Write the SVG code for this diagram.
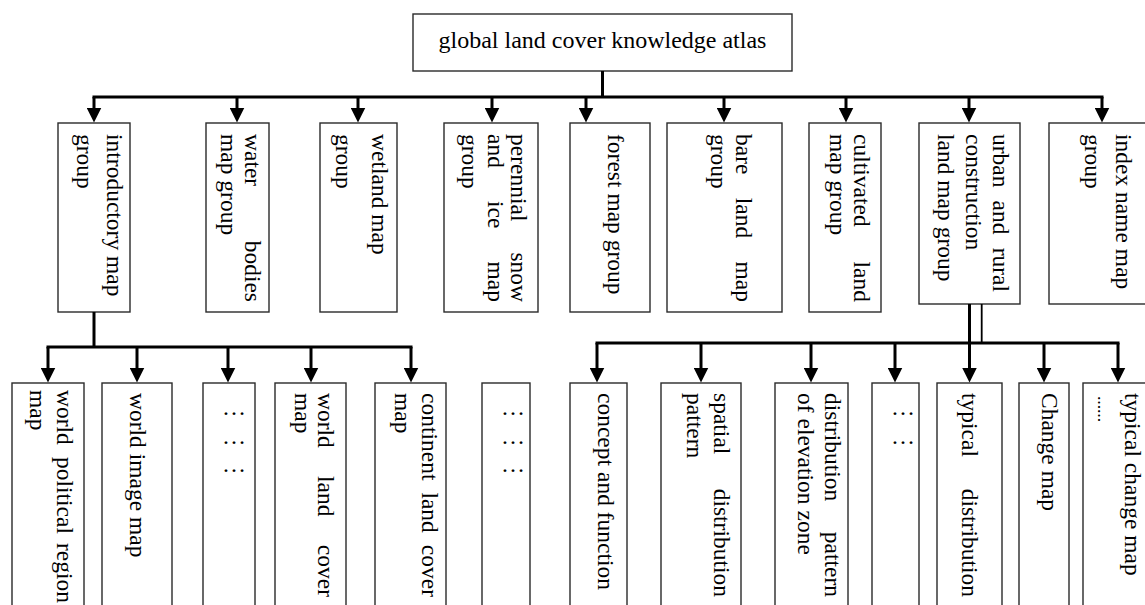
<svg xmlns="http://www.w3.org/2000/svg" width="1145" height="605" viewBox="0 0 1145 605">
<style>
.box{fill:#fff;stroke:#2a2a2a;stroke-width:1.4}
.t{font-family:"Liberation Serif","Times New Roman",serif;font-size:23.5px;fill:#000}
.root{font-size:24px}
.e{text-anchor:end}
.dots{font-family:"Liberation Serif","Times New Roman",serif;font-size:24px;fill:#000;text-anchor:middle}
.sm{font-size:13px;font-weight:bold}
.c{stroke:#000;stroke-width:3;fill:none}
.a{stroke:#000;stroke-width:3;fill:none;marker-end:url(#ah)}
.thin{stroke:#000;stroke-width:1.8;fill:none}
</style>
<defs>
<marker id="ah" viewBox="0 0 15 15" markerWidth="15" markerHeight="15" refX="2" refY="7.5" orient="auto" markerUnits="userSpaceOnUse">
<path d="M0,0 L15,7.5 L0,15 z" fill="#000"/>
</marker>
</defs>
<rect width="1145" height="605" fill="#fff"/>

<g id="root"><rect class="box" x="413" y="14" width="379" height="57"/><text class="t root" x="602.5" y="47.5" text-anchor="middle">global land cover knowledge atlas</text></g>

<g id="introductory"><rect class="box" x="58" y="123" width="72" height="189"/>
<g transform="translate(107,134) rotate(90)"><text class="t" x="0" y="0">introductory map</text><text class="t" x="0" y="30">group</text></g></g>
<g id="water"><rect class="box" x="206" y="123" width="63" height="189"/>
<g transform="translate(245,134) rotate(90)"><text class="t" x="0" y="0">water</text><text class="t e" x="168" y="0">bodies</text><text class="t" x="0" y="24">map group</text></g></g>
<g id="wetland"><rect class="box" x="320" y="123" width="77" height="189"/>
<g transform="translate(372,134) rotate(90)"><text class="t" x="0" y="0">wetland map</text><text class="t" x="0" y="36">group</text></g></g>
<g id="snowice"><rect class="box" x="444" y="123" width="94" height="189"/>
<g transform="translate(511,134) rotate(90)"><text class="t" x="0" y="0">perennial</text><text class="t e" x="168" y="0">snow</text><text class="t" x="0" y="23">and</text><text class="t" x="67" y="23">ice</text><text class="t e" x="168" y="23">map</text><text class="t" x="0" y="49">group</text></g></g>
<g id="forest"><rect class="box" x="570" y="123" width="80" height="189"/>
<g transform="translate(608,134) rotate(90)"><text class="t" x="0" y="0">forest map group</text></g></g>
<g id="bare"><rect class="box" x="667" y="123" width="115" height="189"/>
<g transform="translate(736,134) rotate(90)"><text class="t" x="0" y="0">bare</text><text class="t" x="63.7" y="0">land</text><text class="t e" x="168" y="0">map</text><text class="t" x="0" y="25">group</text></g></g>
<g id="cultivated"><rect class="box" x="809" y="123" width="72" height="189"/>
<g transform="translate(854,134) rotate(90)"><text class="t" x="0" y="0">cultivated</text><text class="t e" x="168" y="0">land</text><text class="t" x="0" y="24">map group</text></g></g>
<g id="urban"><rect class="box" x="919" y="123" width="101" height="181"/>
<g transform="translate(992.5,134) rotate(90)"><text class="t" x="0" y="0">urban</text><text class="t" x="66.6" y="0">and</text><text class="t e" x="158" y="0">rural</text><text class="t" x="0" y="27">construction</text><text class="t" x="0" y="54.5">land map group</text></g></g>
<g id="index"><rect class="box" x="1049" y="123" width="106" height="181"/>
<g transform="translate(1115.5,134) rotate(90)"><text class="t" x="0" y="0">index name map</text><text class="t" x="0" y="31">group</text></g></g>

<g id="political"><rect class="box" x="12" y="383" width="72" height="240"/>
<g transform="translate(56.5,390) rotate(90)"><text class="t" x="0" y="0">world</text><text class="t" x="67" y="0">political</text><text class="t e" x="213" y="0">region</text><text class="t" x="0" y="26.5">map</text></g></g>
<g id="image"><rect class="box" x="102" y="383" width="70" height="240"/>
<g transform="translate(129.5,393) rotate(90)"><text class="t" x="0" y="0">world image map</text></g></g>
<g id="dots1"><rect class="box" x="203" y="383" width="52" height="240"/>
<text class="dots" x="234" y="414.5">…</text><text class="dots" x="234" y="443.5">…</text><text class="dots" x="234" y="471.5">…</text></g>
<g id="worldcover"><rect class="box" x="275" y="383" width="71" height="240"/>
<g transform="translate(318,393) rotate(90)"><text class="t" x="0" y="0">world</text><text class="t" x="83" y="0">land</text><text class="t e" x="204" y="0">cover</text><text class="t" x="0" y="23">map</text></g></g>
<g id="continent"><rect class="box" x="375" y="383" width="71" height="240"/>
<g transform="translate(421.5,393) rotate(90)"><text class="t" x="0" y="0">continent</text><text class="t" x="99.4" y="0">land</text><text class="t e" x="204" y="0">cover</text><text class="t" x="0" y="26.5">map</text></g></g>
<g id="dots2"><rect class="box" x="482" y="383" width="48" height="240"/>
<text class="dots" x="513" y="414.5">…</text><text class="dots" x="513" y="443.5">…</text><text class="dots" x="513" y="471.5">…</text></g>
<g id="concept"><rect class="box" x="570" y="383" width="57" height="240"/>
<g transform="translate(598,393) rotate(90)"><text class="t" x="0" y="0">concept and function</text></g></g>
<g id="spatial"><rect class="box" x="661" y="383" width="80" height="240"/>
<g transform="translate(714,393) rotate(90)"><text class="t" x="0" y="0">spatial</text><text class="t e" x="204" y="0">distribution</text><text class="t" x="0" y="27">pattern</text></g></g>
<g id="elevation"><rect class="box" x="775" y="383" width="73" height="240"/>
<g transform="translate(825,393) rotate(90)"><text class="t" x="0" y="0">distribution</text><text class="t e" x="204" y="0">pattern</text><text class="t" x="0" y="27">of elevation zone</text></g></g>
<g id="dots3"><rect class="box" x="872" y="383" width="47" height="240"/>
<text class="dots" x="903" y="414.5">…</text><text class="dots" x="903" y="443.5">…</text></g>
<g id="typical"><rect class="box" x="937" y="383" width="65" height="240"/>
<g transform="translate(962,393) rotate(90)"><text class="t" x="0" y="0">typical</text><text class="t e" x="204" y="0">distribution</text></g></g>
<g id="change"><rect class="box" x="1019" y="383" width="50" height="240"/>
<g transform="translate(1041.5,393) rotate(90)"><text class="t" x="0" y="0">Change map</text></g></g>
<g id="typicalchange"><rect class="box" x="1083" y="383" width="70" height="240"/>
<g transform="translate(1124.5,393) rotate(90)"><text class="t" x="0" y="0">typical change map</text><text class="t sm" x="3" y="26.5">……</text></g></g>

<g id="connectors">
<path class="c" d="M602.5,71 V97"/>
<path class="c" d="M92.5,97 H1103.5"/>
<path class="a" d="M94,97 V109.5"/><path class="a" d="M237,97 V109.5"/><path class="a" d="M358,97 V109.5"/><path class="a" d="M492,97 V109.5"/><path class="a" d="M586,97 V109.5"/><path class="a" d="M724,97 V109.5"/><path class="a" d="M846,97 V109.5"/><path class="a" d="M969,97 V109.5"/><path class="a" d="M1102,97 V109.5"/>
<path class="c" d="M94,312 V347"/>
<path class="c" d="M46.5,347 H412.5"/>
<path class="a" d="M48,347 V369.5"/><path class="a" d="M137,347 V369.5"/><path class="a" d="M228,347 V369.5"/><path class="a" d="M311,347 V369.5"/><path class="a" d="M411,347 V369.5"/>
<path class="c" d="M969.5,304 V343"/>
<path class="thin" d="M981.7,304 V343"/>
<path class="c" d="M595.5,343 H1119.5"/>
<path class="a" d="M597,343 V369.5"/><path class="a" d="M701,343 V369.5"/><path class="a" d="M811,343 V369.5"/><path class="a" d="M895,343 V369.5"/><path class="a" d="M969.5,343 V369.5"/><path class="a" d="M1044,343 V369.5"/><path class="a" d="M1118,343 V369.5"/>
</g>
</svg>
